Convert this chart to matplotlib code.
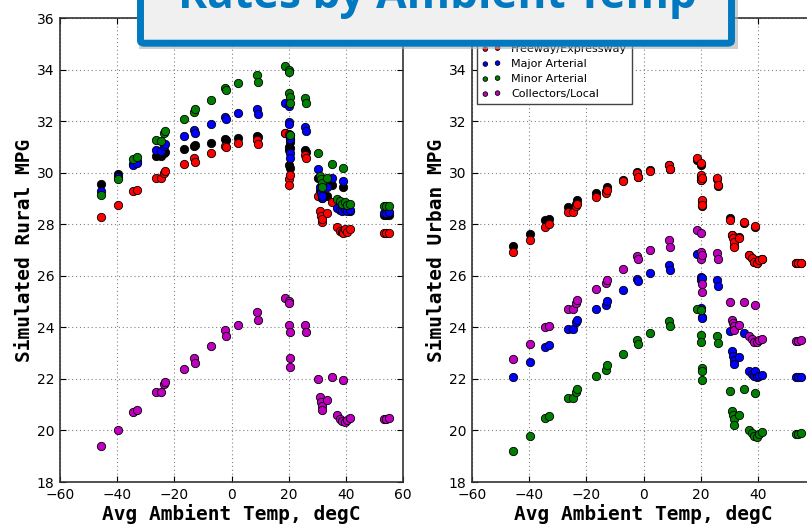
import matplotlib
matplotlib.use("Agg")
import matplotlib.pyplot as plt
from matplotlib import font_manager
from matplotlib.patches import FancyBboxPatch, Rectangle

# ---------------- data ----------------
temps = [-45.7, -39.8, -34.3, -33.0, -26.4, -24.5, -23.5, -23.2, -16.5, -13.2,
         -12.8, -7.3, -2.2, -2.0, 2.3, 8.9, 9.1, 18.8, 20.0, 20.1,
         20.2, 20.3, 20.4, 20.5, 25.7, 26.2, 30.4, 30.9, 31.2, 31.5,
         31.8, 33.5, 35.2, 36.8, 37.8, 38.5, 39.1, 39.8, 40.5, 41.5,
         53.2, 54.0, 55.0]

series_labels = ["Interstate", "Freeway/Expressway", "Major Arterial",
                 "Minor Arterial", "Collectors/Local"]
series_colors = ["k", "r", "b", "g", "m"]

rural_interstate = [29.57, 29.93, 30.35, 30.45, 30.63, 30.63, 30.75, 30.80, 30.93, 31.04,
                    31.07, 31.14, 31.30, 31.28, 31.36, 31.43, 31.40, 31.53, 31.00, 30.88,
                    30.30, 30.17, 31.20, 30.95, 30.88, 30.82, 29.80, 29.30, 29.10, 29.15,
                    29.00, 29.10, 29.53, 28.69, 28.60, 28.65, 29.46, 28.60, 28.55, 28.50,
                    28.34, 28.34, 28.35]
rural_freeway = [28.27, 28.73, 29.27, 29.33, 29.81, 29.80, 30.00, 30.05, 30.33, 30.56,
                 30.43, 30.78, 31.04, 30.98, 31.17, 31.25, 31.12, 31.55, 31.50, 29.75,
                 29.53, 31.45, 29.90, 31.30, 30.69, 30.56, 29.10, 28.50, 28.30, 28.10,
                 28.20, 28.45, 28.85, 27.90, 27.75, 27.70, 27.65, 27.80, 27.68, 27.80,
                 27.65, 27.65, 27.66]
rural_major = [29.27, 29.82, 30.30, 30.37, 30.88, 30.85, 31.04, 31.10, 31.43, 31.66,
               31.55, 31.88, 32.15, 32.10, 32.30, 32.47, 32.28, 32.69, 32.59, 31.98,
               31.89, 30.78, 30.56, 31.30, 31.76, 31.63, 30.15, 29.46, 29.20, 29.00,
               29.10, 29.45, 29.81, 28.62, 28.55, 28.50, 29.68, 28.60, 28.50, 28.55,
               28.45, 28.45, 28.47]
rural_minor = [29.13, 29.75, 30.52, 30.60, 31.27, 31.21, 31.53, 31.60, 32.08, 32.37,
               32.46, 32.82, 33.30, 33.21, 33.47, 33.79, 33.50, 34.15, 34.00, 33.92,
               33.08, 32.95, 32.70, 31.45, 32.90, 32.72, 30.75, 29.88, 29.75, 29.60,
               29.45, 29.80, 30.33, 28.97, 28.90, 28.80, 30.17, 28.85, 28.75, 28.80,
               28.71, 28.70, 28.72]
rural_local = [19.41, 20.00, 20.72, 20.81, 21.49, 21.49, 21.81, 21.88, 22.40, 22.81,
               22.60, 23.27, 23.91, 23.67, 24.10, 24.58, 24.27, 25.13, 25.04, 24.94,
               24.10, 23.82, 22.80, 22.45, 24.08, 23.80, 22.01, 21.28, 21.10, 20.95,
               20.80, 21.20, 22.06, 20.61, 20.45, 20.35, 21.94, 20.32, 20.40, 20.50,
               20.46, 20.45, 20.47]

urban_interstate = [27.17, 27.63, 28.17, 28.21, 28.66, 28.60, 28.80, 28.94, 29.23, 29.30,
                    29.46, 29.70, 30.02, 29.85, 30.10, 30.30, 30.15, 30.50, 30.30, 29.85,
                    29.70, 28.90, 28.70, 29.75, 29.75, 29.50, 28.23, 27.60, 27.50, 27.35,
                    27.15, 27.50, 28.05, 26.80, 26.70, 26.55, 27.90, 26.50, 26.60, 26.65,
                    26.50, 26.50, 26.50]
urban_freeway = [26.94, 27.40, 27.89, 28.00, 28.49, 28.49, 28.72, 28.80, 29.07, 29.23,
                 29.32, 29.66, 30.00, 29.82, 30.07, 30.30, 30.13, 30.56, 30.39, 29.90,
                 29.72, 28.95, 28.73, 29.80, 29.79, 29.53, 28.17, 27.59, 27.45, 27.30,
                 27.11, 27.45, 28.07, 26.81, 26.70, 26.55, 27.94, 26.49, 26.60, 26.65,
                 26.49, 26.49, 26.50]
urban_major = [22.06, 22.64, 23.24, 23.30, 23.95, 23.94, 24.20, 24.30, 24.70, 24.88,
               25.03, 25.43, 25.87, 25.78, 26.10, 26.43, 26.23, 26.84, 25.97, 25.84,
               24.75, 24.42, 24.36, 25.90, 25.84, 25.59, 23.84, 23.07, 22.90, 22.75,
               22.59, 22.85, 23.78, 22.32, 22.20, 22.10, 22.32, 22.07, 22.10, 22.15,
               22.07, 22.07, 22.09]
urban_minor = [19.22, 19.80, 20.48, 20.57, 21.26, 21.24, 21.50, 21.61, 22.12, 22.35,
               22.52, 22.98, 23.52, 23.35, 23.78, 24.23, 24.04, 24.72, 24.66, 23.71,
               23.42, 22.42, 22.29, 21.97, 23.67, 23.39, 21.52, 20.74, 20.60, 20.45,
               20.23, 20.60, 21.61, 20.03, 19.90, 19.80, 21.45, 19.75, 19.85, 19.95,
               19.88, 19.88, 19.90]
urban_local = [22.78, 23.35, 24.01, 24.07, 24.72, 24.72, 24.95, 25.07, 25.50, 25.72,
               25.84, 26.27, 26.75, 26.66, 27.00, 27.37, 27.11, 27.78, 27.65, 26.94,
               26.65, 25.69, 25.39, 26.80, 26.88, 26.66, 25.00, 24.30, 24.15, 24.04,
               23.90, 24.10, 24.98, 23.65, 23.55, 23.45, 24.85, 23.42, 23.50, 23.55,
               23.48, 23.48, 23.52]

x_ticks = [-60, -40, -20, 0, 20, 40, 60]
y_ticks = [18, 20, 22, 24, 26, 28, 30, 32, 34, 36]
title_text = "Rates by Ambient Temp"
x_label = "Avg Ambient Temp, degC"
y_label_rural = "Simulated Rural MPG"
y_label_urban = "Simulated Urban MPG"

# ---------------- fonts ----------------
def has_font(name):
    try:
        font_manager.findfont(font_manager.FontProperties(family=name),
                              fallback_to_default=False)
        return True
    except Exception:
        return False

tick_family = "Liberation Sans Narrow" if has_font("Liberation Sans Narrow") else "DejaVu Sans"
title_family = "Open Sans" if has_font("Open Sans") else "DejaVu Sans"

W, H = 807, 524
fig = plt.figure(figsize=(W / 100, H / 100), dpi=100)
fig.patch.set_facecolor("white")

ax_l = fig.add_axes([60 / W, (H - 482) / H, 343 / W, 464 / H])
ax_r = fig.add_axes([472 / W, (H - 482) / H, 343 / W, 464 / H])

rural = [rural_interstate, rural_freeway, rural_major, rural_minor, rural_local]
urban = [urban_interstate, urban_freeway, urban_major, urban_minor, urban_local]

for ax, data, ylab in [(ax_l, rural, y_label_rural), (ax_r, urban, y_label_urban)]:
    for vals, col, lab in zip(data, series_colors, series_labels):
        ax.scatter(temps, vals, s=36, c=col, edgecolors="black", linewidths=0.6,
                   label=lab, zorder=3)
    ax.set_xlim(-60, 60)
    ax.set_ylim(18, 36)
    ax.set_xticks(x_ticks)
    ax.set_yticks(y_ticks)
    ax.grid(True, color="0.5", linestyle=(0, (1, 2.5)), linewidth=0.8)
    ax.set_axisbelow(True)
    ax.tick_params(direction="in", top=True, right=True, length=4, width=0.8,
                   labelsize=10, pad=4)
    for lbl in ax.get_xticklabels() + ax.get_yticklabels():
        lbl.set_family(tick_family)
    for sp in ax.spines.values():
        sp.set_color("#333333")
        sp.set_linewidth(1.2)
    ax.set_xlabel(x_label, family="DejaVu Sans Mono", fontweight="bold",
                  fontsize=14, labelpad=2)
    ax.set_ylabel(ylab, family="DejaVu Sans Mono", fontweight="bold",
                  fontsize=14, labelpad=2)

# the right panel is cropped by the figure edge: its "60" label is not visible
ax_r.get_xticklabels()[-1].set_visible(False)

leg = ax_r.legend(loc="lower left", bbox_to_anchor=((477 - 472) / 343, (H - 104 - 42) / 464),
                  borderaxespad=0, scatterpoints=2, markerscale=0.55,
                  fancybox=False, framealpha=1, edgecolor="#444444",
                  prop={"family": tick_family, "size": 8},
                  handlelength=1.7, handletextpad=0.9, labelspacing=0.45,
                  borderpad=0.45)
leg.get_frame().set_linewidth(1.0)

# ---------------- title box ----------------
blue = "#0079c1"
shadow = Rectangle((139 / W, (H - 48.5) / H), (737.5 - 139) / W, 80 / H,
                   transform=fig.transFigure, facecolor="#b0b0b0", edgecolor="none",
                   alpha=0.6, zorder=9)
fig.add_artist(shadow)
box = FancyBboxPatch((140.5 / W, (H - 43.2) / H), (731.5 - 140.5) / W, 80 / H,
                     boxstyle="round,pad=0,rounding_size=0.005",
                     transform=fig.transFigure, facecolor="#f0f0f0",
                     edgecolor=blue, linewidth=5.0, zorder=10)
fig.add_artist(box)

t = fig.text(437.5 / W, (H - 8.3) / H, title_text, ha="center", va="baseline",
             family=title_family, fontweight="bold", fontsize=30, color=blue, zorder=11)
fig.canvas.draw()
bb = t.get_window_extent(renderer=fig.canvas.get_renderer())
t.set_fontsize(30 * 519 / bb.width)

fig.savefig("out.png", dpi=100)
